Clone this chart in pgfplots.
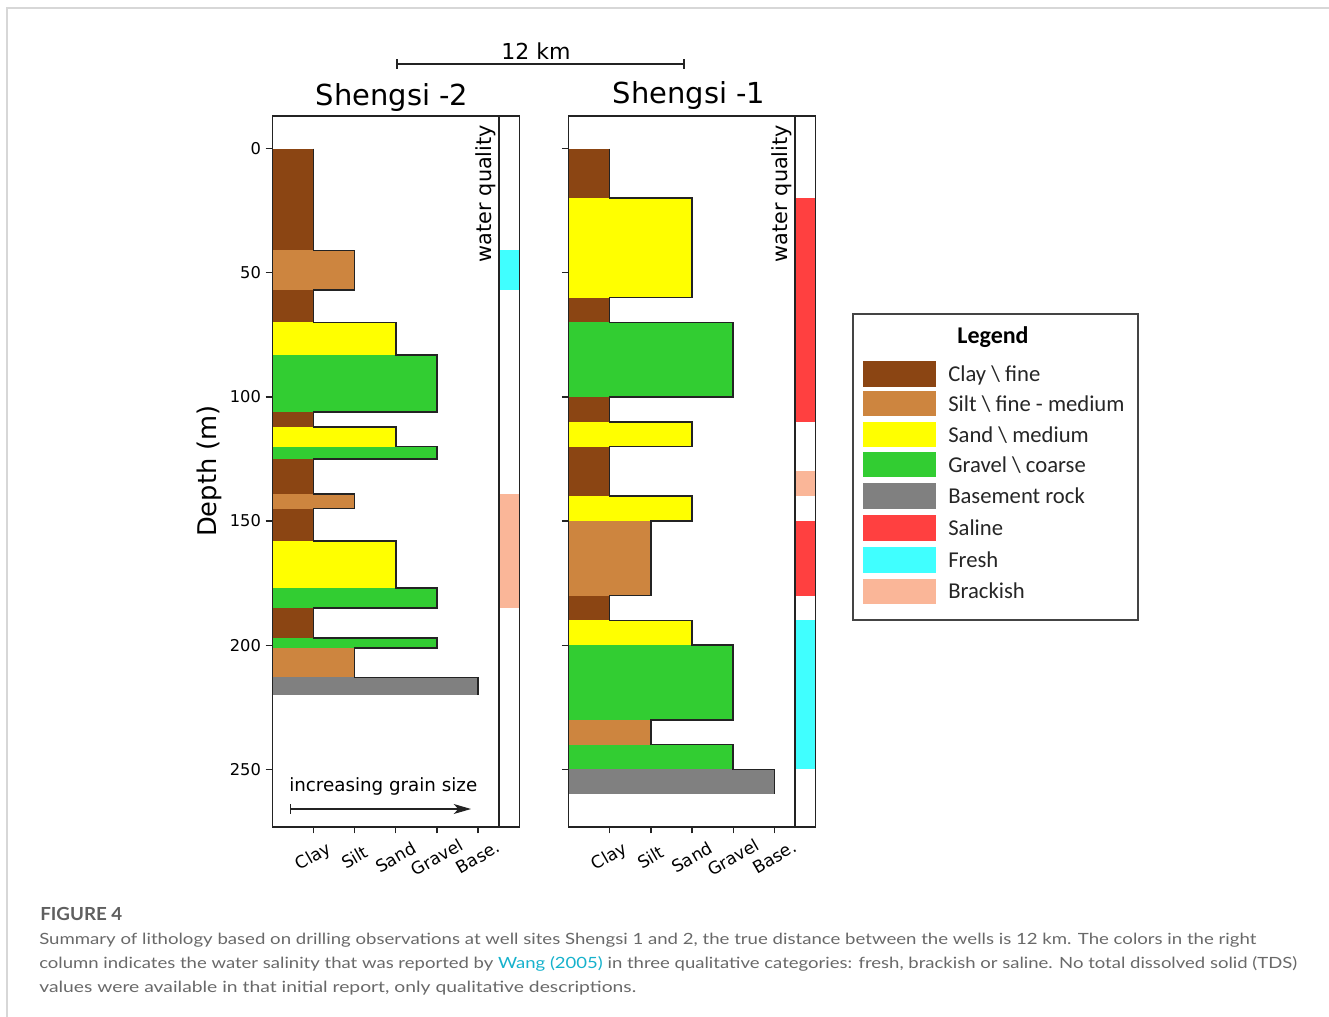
\documentclass[border=0pt]{standalone}
\usepackage{graphicx}
\usepackage{pgfplots}
\pgfplotsset{compat=1.18}
\usepackage{fontspec}
\setmainfont{DejaVu Sans}
\newfontfamily\legfont{Carlito}
\newfontfamily\capfont{Lato}
\usetikzlibrary{arrows.meta}
\definecolor{clay}{RGB}{139,69,19}
\definecolor{silt}{RGB}{205,133,63}
\definecolor{sand}{RGB}{255,255,0}
\definecolor{gravel}{RGB}{50,205,50}
\definecolor{basement}{RGB}{128,128,128}
\definecolor{saline}{RGB}{255,64,64}
\definecolor{fresh}{RGB}{64,255,255}
\definecolor{brackish}{RGB}{250,182,152}
\definecolor{capgray}{RGB}{105,105,105}
\definecolor{figgray}{RGB}{95,95,95}
\definecolor{linkcol}{RGB}{22,178,204}
\definecolor{framegray}{RGB}{215,215,215}
\definecolor{edge}{RGB}{35,35,35}
\pgfplotsset{
  well/.style={
    scale only axis, width=185.25pt, height=532.95pt, anchor=south west,
    xmin=0, xmax=6, ymin=-13.1, ymax=273.1, y dir=reverse,
    xtick={1,2,3,4,5}, xticklabels={Clay,Silt,Sand,Gravel,Base.},
    ytick={0,50,100,150,200,250},
    tick align=outside, tick pos=left, major tick length=5pt,
    axis line style={line width=1.2pt, edge},
    every tick/.style={line width=1pt, edge},
    xticklabel style={yshift=-18pt, rotate=30, anchor=center, font=\fontsize{12.8}{14}\selectfont},
    yticklabel style={font=\fontsize{12.2}{14}\selectfont},
    /pgf/number format/assume math mode=true,
    axis on top,
  },
  lay/.style={draw=none, fill=#1},
  prof/.style={edge, line width=1.2pt},
}
\begin{document}
\begin{tikzpicture}
\useasboundingbox (0,0) rectangle (996.75pt,-762.75pt);
\fill[white] (0,0) rectangle (996.75pt,-762.75pt);

% ---------------- Shengsi -2 ----------------
\begin{axis}[well, at={(204.225pt,-620.025pt)}]
\addplot[lay=clay] coordinates {(0,0) (1,0) (1,41) (0,41)} -- cycle;
\addplot[lay=silt] coordinates {(0,41) (2,41) (2,57) (0,57)} -- cycle;
\addplot[lay=clay] coordinates {(0,57) (1,57) (1,70) (0,70)} -- cycle;
\addplot[lay=sand] coordinates {(0,70) (3,70) (3,83) (0,83)} -- cycle;
\addplot[lay=gravel] coordinates {(0,83) (4,83) (4,106) (0,106)} -- cycle;
\addplot[lay=clay] coordinates {(0,106) (1,106) (1,112) (0,112)} -- cycle;
\addplot[lay=sand] coordinates {(0,112) (3,112) (3,120) (0,120)} -- cycle;
\addplot[lay=gravel] coordinates {(0,120) (4,120) (4,125) (0,125)} -- cycle;
\addplot[lay=clay] coordinates {(0,125) (1,125) (1,139) (0,139)} -- cycle;
\addplot[lay=silt] coordinates {(0,139) (2,139) (2,145) (0,145)} -- cycle;
\addplot[lay=clay] coordinates {(0,145) (1,145) (1,158) (0,158)} -- cycle;
\addplot[lay=sand] coordinates {(0,158) (3,158) (3,177) (0,177)} -- cycle;
\addplot[lay=gravel] coordinates {(0,177) (4,177) (4,185) (0,185)} -- cycle;
\addplot[lay=clay] coordinates {(0,185) (1,185) (1,197) (0,197)} -- cycle;
\addplot[lay=gravel] coordinates {(0,197) (4,197) (4,201) (0,201)} -- cycle;
\addplot[lay=silt] coordinates {(0,201) (2,201) (2,213) (0,213)} -- cycle;
\addplot[lay=basement] coordinates {(0,213) (5,213) (5,220) (0,220)} -- cycle;
\addplot[prof] coordinates {(1,0) (1,41) (2,41) (2,57) (1,57) (1,70) (3,70) (3,83) (4,83) (4,106) (1,106) (1,112) (3,112) (3,120) (4,120) (4,125) (1,125) (1,139) (2,139) (2,145) (1,145) (1,158) (3,158) (3,177) (4,177) (4,185) (1,185) (1,197) (4,197) (4,201) (2,201) (2,213) (5,213) (5,220)};
% water quality
\addplot[lay=fresh] coordinates {(5.5,41) (6,41) (6,57) (5.5,57)} -- cycle;
\addplot[lay=brackish] coordinates {(5.5,139) (6,139) (6,185) (5.5,185)} -- cycle;
\addplot[prof] coordinates {(5.5,-13.1) (5.5,273.1)};
\end{axis}

% ---------------- Shengsi -1 ----------------
\begin{axis}[well, at={(426.375pt,-620.025pt)}, yticklabels={,,,,,,}]
\addplot[lay=clay] coordinates {(0,0) (1,0) (1,20) (0,20)} -- cycle;
\addplot[lay=sand] coordinates {(0,20) (3,20) (3,60) (0,60)} -- cycle;
\addplot[lay=clay] coordinates {(0,60) (1,60) (1,70) (0,70)} -- cycle;
\addplot[lay=gravel] coordinates {(0,70) (4,70) (4,100) (0,100)} -- cycle;
\addplot[lay=clay] coordinates {(0,100) (1,100) (1,110) (0,110)} -- cycle;
\addplot[lay=sand] coordinates {(0,110) (3,110) (3,120) (0,120)} -- cycle;
\addplot[lay=clay] coordinates {(0,120) (1,120) (1,140) (0,140)} -- cycle;
\addplot[lay=sand] coordinates {(0,140) (3,140) (3,150) (0,150)} -- cycle;
\addplot[lay=silt] coordinates {(0,150) (2,150) (2,180) (0,180)} -- cycle;
\addplot[lay=clay] coordinates {(0,180) (1,180) (1,190) (0,190)} -- cycle;
\addplot[lay=sand] coordinates {(0,190) (3,190) (3,200) (0,200)} -- cycle;
\addplot[lay=gravel] coordinates {(0,200) (4,200) (4,230) (0,230)} -- cycle;
\addplot[lay=silt] coordinates {(0,230) (2,230) (2,240) (0,240)} -- cycle;
\addplot[lay=gravel] coordinates {(0,240) (4,240) (4,250) (0,250)} -- cycle;
\addplot[lay=basement] coordinates {(0,250) (5,250) (5,260) (0,260)} -- cycle;
\addplot[prof] coordinates {(1,0) (1,20) (3,20) (3,60) (1,60) (1,70) (4,70) (4,100) (1,100) (1,110) (3,110) (3,120) (1,120) (1,140) (3,140) (3,150) (2,150) (2,180) (1,180) (1,190) (3,190) (3,200) (4,200) (4,230) (2,230) (2,240) (4,240) (4,250) (5,250) (5,260)};
% water quality
\addplot[lay=saline] coordinates {(5.5,20) (6,20) (6,110) (5.5,110)} -- cycle;
\addplot[lay=brackish] coordinates {(5.5,130) (6,130) (6,140) (5.5,140)} -- cycle;
\addplot[lay=saline] coordinates {(5.5,150) (6,150) (6,180) (5.5,180)} -- cycle;
\addplot[lay=fresh] coordinates {(5.5,190) (6,190) (6,250) (5.5,250)} -- cycle;
\addplot[prof] coordinates {(5.5,-13.1) (5.5,273.1)};
\end{axis}

% ---------------- annotations (1 unit = 1 px of reference) ----------------
\begin{scope}[x=0.75pt,y=-0.75pt]
\draw[framegray, line width=0.8pt] (7,1017) -- (7,8) -- (1329,8);
% scale bar
\draw[edge, line width=0.8pt] (397,64) -- (684,64);
\draw[edge, line width=0.8pt] (397,59) -- (397,69);
\draw[edge, line width=0.8pt] (684,59) -- (684,69);
\node[anchor=base, inner sep=0] at (536,59) {\fontsize{16.5}{18}\selectfont 12 km};
% titles
\node[anchor=base, inner sep=0] at (392,105) {\fontsize{21.7}{24}\selectfont Shengsi -2};
\node[anchor=base, inner sep=0] at (689,103) {\fontsize{21.7}{24}\selectfont Shengsi -1};
% y label
\node[rotate=90, inner sep=0] at (209,471) {\fontsize{19.3}{22}\selectfont Depth (m)};
% water quality labels
\node[rotate=90, inner sep=0] at (485.5,193.5) {\fontsize{15.6}{18}\selectfont water quality};
\node[rotate=90, inner sep=0] at (781.5,193.5) {\fontsize{15.6}{18}\selectfont water quality};
% grain size arrow
\node[anchor=base west, inner sep=0] at (289,791) {\fontsize{13.7}{16}\selectfont increasing grain size};
\draw[edge, line width=0.8pt, {Bar[width=7pt]}-{Stealth[length=13pt, width=7.5pt, inset=3.5pt]}] (290,809) -- (471,809);
% legend
\draw[edge!85, line width=0.8pt] (853,314) rectangle (1138,620);
\node[anchor=base, inner sep=0] at (993,343) {\legfont\bfseries\fontsize{18}{20}\selectfont Legend};
\fill[clay]     (863,361) rectangle (936,387);
\fill[silt]     (863,391) rectangle (936,416);
\fill[sand]     (863,422) rectangle (936,447);
\fill[gravel]   (863,452) rectangle (936,477);
\fill[basement] (863,483) rectangle (936,509);
\fill[saline]   (863,515) rectangle (936,541);
\fill[fresh]    (863,547) rectangle (936,573);
\fill[brackish] (863,579) rectangle (936,604);
\begin{scope}[every node/.style={anchor=base west, inner sep=0, font=\legfont\fontsize{17}{19}\selectfont, text=black!85}]
\node at (948,381) {Clay \textbackslash{} fine};
\node at (948,411) {Silt \textbackslash{} fine - medium};
\node at (948,442) {Sand \textbackslash{} medium};
\node at (948,472) {Gravel \textbackslash{} coarse};
\node at (948,503) {Basement rock};
\node at (948,535) {Saline};
\node at (948,567) {Fresh};
\node at (948,598) {Brackish};
\end{scope}
% caption
\node[anchor=base west, inner sep=0, text=figgray] at (40,920) {\resizebox{61.5pt}{\height}{\capfont\bfseries\fontsize{13.5}{15}\selectfont FIGURE 4}};
\node[anchor=base west, inner sep=0, text=capgray] at (39,944) {\resizebox{912.75pt}{\height}{\capfont\fontsize{11.6}{14}\selectfont Summary of lithology based on drilling observations at well sites Shengsi 1 and 2, the true distance between the wells is 12 km. The colors in the right}};
\node[anchor=base west, inner sep=0, text=capgray] at (39,968) {\resizebox{943.5pt}{\height}{\capfont\fontsize{11.6}{14}\selectfont column indicates the water salinity that was reported by \textcolor{linkcol}{Wang (2005)} in three qualitative categories: fresh, brackish or saline. No total dissolved solid (TDS)}};
\node[anchor=base west, inner sep=0, text=capgray] at (39,992) {\resizebox{447.75pt}{\height}{\capfont\fontsize{11.6}{14}\selectfont values were available in that initial report, only qualitative descriptions.}};
\end{scope}
\end{tikzpicture}
\end{document}
